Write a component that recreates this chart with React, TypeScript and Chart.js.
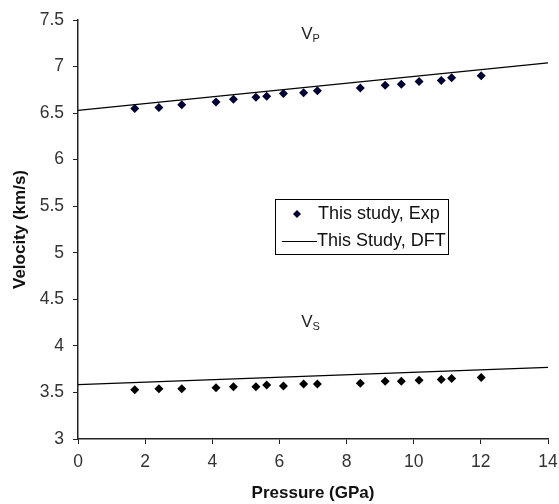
import React, { useEffect, useRef } from "react";
import { Chart, registerables } from "chart.js";

Chart.register(...registerables);

const pressureExp = [1.69, 2.41, 3.09, 4.11, 4.63, 5.3, 5.62, 6.12, 6.72, 7.13, 8.41, 9.15, 9.63, 10.16, 10.82, 11.13, 12.01];
const vpExp = [6.55, 6.56, 6.59, 6.62, 6.65, 6.67, 6.68, 6.71, 6.72, 6.74, 6.77, 6.8, 6.81, 6.84, 6.85, 6.88, 6.9];
const vsExp = [3.53, 3.54, 3.54, 3.55, 3.56, 3.56, 3.58, 3.57, 3.59, 3.59, 3.6, 3.62, 3.62, 3.63, 3.64, 3.65, 3.66];
const pressureDft = [0, 14];
const vpDft = [6.53, 7.04];
const vsDft = [3.585, 3.77];

const xTicks = [0, 2, 4, 6, 8, 10, 12, 14];
const yTicks = [3, 3.5, 4, 4.5, 5, 5.5, 6, 6.5, 7, 7.5];

const legendLabels = ["This study, Exp", "This Study, DFT"];
const waveLabels = [
  { main: "V", sub: "P", x: 6.65, y: 7.3 },
  { main: "V", sub: "S", x: 6.65, y: 4.2 },
];

const FONT = "'Liberation Sans', Arial, sans-serif";

const annotationPlugin = {
  id: "customAnnotations",
  afterDraw(chart: any) {
    const ctx = chart.ctx;
    const xs = chart.scales.x;
    const ys = chart.scales.y;
    ctx.save();
    ctx.fillStyle = "#222";
    ctx.textBaseline = "alphabetic";
    ctx.textAlign = "left";
    for (const w of waveLabels) {
      const px = xs.getPixelForValue(w.x);
      const py = ys.getPixelForValue(w.y);
      ctx.font = `17px ${FONT}`;
      ctx.fillText(w.main, px, py);
      const mw = ctx.measureText(w.main).width;
      ctx.font = `11px ${FONT}`;
      ctx.fillText(w.sub, px + mw, py + 3);
    }
    const bx = 275.5, by = 199.5, bw = 173, bh = 55;
    ctx.fillStyle = "#fff";
    ctx.fillRect(bx, by, bw, bh);
    ctx.strokeStyle = "#000";
    ctx.lineWidth = 1;
    ctx.strokeRect(bx, by, bw, bh);
    const dx = 297, dy = 214;
    ctx.fillStyle = "#000033";
    ctx.beginPath();
    ctx.moveTo(dx, dy - 4);
    ctx.lineTo(dx + 4, dy);
    ctx.lineTo(dx, dy + 4);
    ctx.lineTo(dx - 4, dy);
    ctx.closePath();
    ctx.fill();
    ctx.strokeStyle = "#000";
    ctx.beginPath();
    ctx.moveTo(282, 241.5);
    ctx.lineTo(317, 241.5);
    ctx.stroke();
    ctx.fillStyle = "#111";
    ctx.font = `18px ${FONT}`;
    ctx.textBaseline = "middle";
    ctx.fillText(legendLabels[0], 318, 214);
    ctx.fillText(legendLabels[1], 317, 241);
    ctx.restore();
  },
};

export default function App() {
  const ref = useRef<HTMLCanvasElement>(null);
  useEffect(() => {
    document.body.style.margin = "0";
    const canvas = ref.current!;
    const chart = new Chart(canvas, {
      type: "scatter",
      data: {
        datasets: [
          {
            label: "Vp Exp",
            data: pressureExp.map((p, i) => ({ x: p, y: vpExp[i] })),
            pointStyle: "rectRot",
            pointRadius: 4.5,
            backgroundColor: "#000033",
            borderColor: "#000033",
            borderWidth: 0,
            showLine: false,
          },
          {
            label: "Vs Exp",
            data: pressureExp.map((p, i) => ({ x: p, y: vsExp[i] })),
            pointStyle: "rectRot",
            pointRadius: 4.5,
            backgroundColor: "#000",
            borderColor: "#000",
            borderWidth: 0,
            showLine: false,
          },
          {
            label: "Vp DFT",
            data: pressureDft.map((p, i) => ({ x: p, y: vpDft[i] })),
            showLine: true,
            pointRadius: 0,
            borderColor: "#000",
            borderWidth: 1.3,
          },
          {
            label: "Vs DFT",
            data: pressureDft.map((p, i) => ({ x: p, y: vsDft[i] })),
            showLine: true,
            pointRadius: 0,
            borderColor: "#000",
            borderWidth: 1.3,
          },
        ],
      },
      options: {
        responsive: false,
        animation: false,
        devicePixelRatio: 1,
        layout: { padding: { top: 20, right: 11, left: 0, bottom: 0 } },
        plugins: {
          legend: { display: false },
          tooltip: { enabled: false },
        },
        scales: {
          x: {
            type: "linear",
            min: 0,
            max: 14,
            afterFit: (s: any) => {
              s.height = 65;
              s.paddingRight = 0;
              s.paddingLeft = 0;
            },
            afterBuildTicks: (s: any) => {
              s.ticks = xTicks.map((v) => ({ value: v }));
            },
            ticks: {
              color: "#333",
              font: { family: FONT, size: 17.5 },
              padding: 8,
              maxRotation: 0,
              callback: (v: any) => String(v),
            },
            grid: {
              drawOnChartArea: false,
              drawTicks: true,
              tickLength: 5,
              color: "#222",
            },
            border: { color: "#222", width: 1.5 },
            title: {
              display: true,
              text: "Pressure (GPa)",
              color: "#111",
              font: { family: FONT, size: 17, weight: "bold" },
              padding: { top: 0, bottom: 0 },
            },
          },
          y: {
            type: "linear",
            min: 3,
            max: 7.5,
            afterFit: (s: any) => {
              s.width = 78;
              s.paddingTop = 0;
              s.paddingBottom = 0;
            },
            afterBuildTicks: (s: any) => {
              s.ticks = yTicks.map((v) => ({ value: v }));
            },
            ticks: {
              color: "#333",
              font: { family: FONT, size: 17.5 },
              padding: 9,
              callback: (v: any) => String(v),
            },
            grid: {
              drawOnChartArea: false,
              drawTicks: true,
              tickLength: 5,
              color: "#222",
            },
            border: { color: "#222", width: 1.5 },
            title: {
              display: true,
              text: "Velocity (km/s)",
              color: "#111",
              font: { family: FONT, size: 17, weight: "bold" },
              padding: { top: 10, bottom: 0 },
            },
          },
        },
      },
      plugins: [annotationPlugin],
    });
    return () => chart.destroy();
  }, []);
  return <canvas ref={ref} width={559} height={504} style={{ display: "block" }} />;
}
